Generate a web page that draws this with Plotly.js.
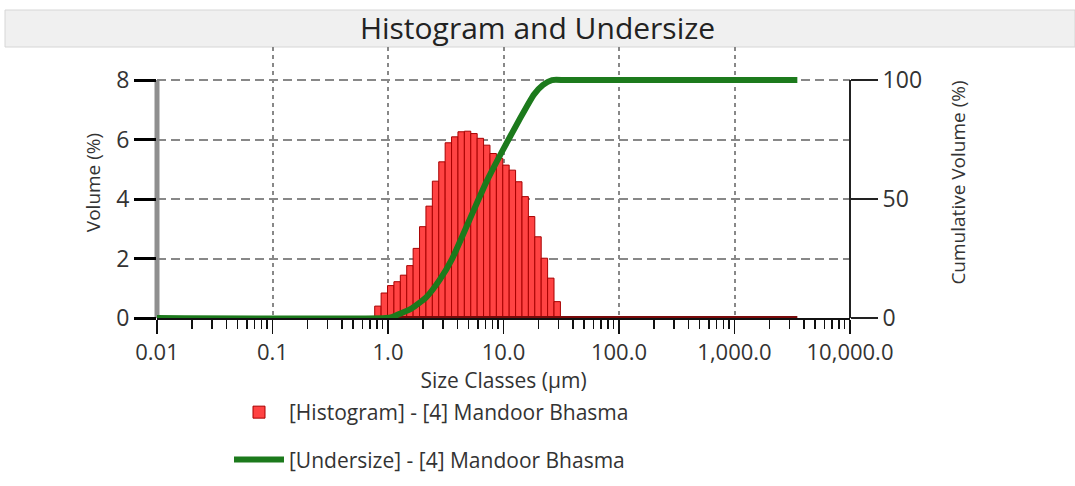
<!DOCTYPE html>
<html>
<head>
<meta charset="utf-8">
<script src="https://cdn.plot.ly/plotly-3.0.1.min.js"></script>
<style>html,body{margin:0;padding:0;background:#fff;}#chart{width:1075px;height:486px;}</style>
</head>
<body>
<div id="chart"></div>
<script>
// Size-class bin edges of the instrument's log-spaced classes (µm)
const binEdges = [0.7673, 0.8718, 0.9905, 1.1253, 1.2786, 1.4527, 1.6505, 1.8752, 2.1306, 2.4207,
  2.7503, 3.1248, 3.5503, 4.0337, 4.5830, 5.2070, 5.9156, 6.7215, 7.6366, 8.6765,
  9.857, 11.199, 12.724, 14.457, 16.425, 18.662, 21.203, 24.090, 27.370, 31.097];
// Histogram volume (%) per class (one value per bin)
const volumePct = [0.40, 0.84, 1.09, 1.22, 1.44, 1.76, 2.34, 3.07, 3.76, 4.60,
  5.25, 5.89, 6.09, 6.26, 6.28, 6.20, 6.04, 5.81, 5.53, 5.37,
  5.14, 4.97, 4.58, 4.08, 3.41, 2.73, 2.01, 1.34, 0.55];
// Undersize (cumulative volume %) curve
const undersizeSizes = [0.01, 0.95, 1.1, 1.3, 1.6, 2.15, 2.8, 3.6, 5.05, 7.08, 9.73, 13.6,
  18.4, 22, 26.3, 35, 3500];
const undersizePct = [0, 0, 0.5, 2, 4, 8.8, 16, 25, 41, 57, 70, 83,
  94, 98, 100, 100, 100];
// Histogram analysis range (zero baseline)
const histRangeSizes = [0.01, 3500];
const histRangeVals = [0, 0];
// Tick labels
const xTickVals = [0.01, 0.1, 1, 10, 100, 1000, 10000];
const xTickText = ["0.01", "0.1", "1.0", "10.0", "100.0", "1,000.0", "10,000.0"];
const yTickVals = [0, 2, 4, 6, 8];
const y2TickVals = [0, 50, 100];

// bars span each class from its lower to its upper edge
const barX = volumePct.map((v, i) => binEdges[i]);
const barW = volumePct.map((v, i) => binEdges[i + 1] - binEdges[i]);

const traces = [
  {
    type: 'scatter', mode: 'lines', x: histRangeSizes, y: histRangeVals,
    line: {color: '#7a0a0a', width: 4}, showlegend: false, hoverinfo: 'skip', yaxis: 'y'
  },
  {
    type: 'bar', x: barX, y: volumePct, width: barW, offset: 0, yaxis: 'y',
    name: '[Histogram] - [4] Mandoor Bhasma', legendgroup: 'h',
    marker: {color: '#ff4343', line: {color: '#a80000', width: 1}}
  },
  {
    type: 'scatter', mode: 'lines', x: undersizeSizes, y: undersizePct, yaxis: 'y2',
    name: '[Undersize] - [4] Mandoor Bhasma', legendgroup: 'u',
    line: {color: '#1c7a1c', width: 6, shape: 'spline', smoothing: 0.6}
  }
];

const layout = {
  width: 1075, height: 486,
  margin: {l: 157, r: 225, t: 47, b: 168, pad: 0, autoexpand: false},
  paper_bgcolor: '#ffffff', plot_bgcolor: '#ffffff',
  font: {family: 'Open Sans, sans-serif', color: '#333333'},
  bargap: 0,
  title: {
    text: 'Histogram and Undersize', font: {size: 30, color: '#222222'},
    x: 0.5, xref: 'container', xanchor: 'center',
    y: 1 - 28 / 486, yref: 'container', yanchor: 'middle'
  },
  xaxis: {
    type: 'log', range: [-2, 4], tickmode: 'array', tickvals: xTickVals, ticktext: xTickText,
    ticks: 'outside', ticklen: 14, tickwidth: 1.5, tickcolor: '#111111',
    showline: true, linecolor: '#111111', linewidth: 1.5,
    showgrid: true, gridcolor: '#888888', gridwidth: 2, griddash: '4px,4px',
    minor: {ticks: 'outside', ticklen: 9, tickwidth: 1.5, tickcolor: '#111111', dtick: 'D1', showgrid: false},
    zeroline: false, tickfont: {size: 22, color: '#333333'},
    title: {text: 'Size Classes (µm)', font: {size: 21, color: '#333333'}, standoff: 0},
    automargin: false
  },
  yaxis: {
    range: [0, 9.11], tickmode: 'array', tickvals: yTickVals,
    ticks: 'outside', ticklen: 22, tickwidth: 3, tickcolor: '#000000',
    showline: false,
    showgrid: true, gridcolor: '#888888', gridwidth: 2, griddash: '9px,5px',
    zeroline: false, tickfont: {size: 23, color: '#333333'},
    title: {text: 'Volume (%)', font: {size: 19, color: '#333333'}, standoff: 10},
    automargin: false
  },
  yaxis2: {
    overlaying: 'y', side: 'right', range: [0, 113.9], tickmode: 'array', tickvals: y2TickVals,
    ticks: 'outside', ticklen: 27, tickwidth: 1.5, tickcolor: '#222222',
    showline: false,
    showgrid: false, zeroline: false, tickfont: {size: 23, color: '#333333'},
    title: {text: 'Cumulative Volume (%)', font: {size: 19, color: '#333333'}, standoff: 30},
    automargin: false
  },
  legend: {
    x: (229 - 157) / 693, xanchor: 'left', y: (318 - 392) / 271, yanchor: 'top',
    orientation: 'v', traceorder: 'grouped', tracegroupgap: 17, itemwidth: 50,
    font: {size: 21, color: '#333333'}, bgcolor: 'rgba(0,0,0,0)', borderwidth: 0
  },
  shapes: [
    {
      type: 'rect', xref: 'paper', yref: 'paper', layer: 'below',
      x0: (5 - 157) / 693, x1: (1075 - 157) / 693, y0: 1.0, y1: (318 - 10) / 271,
      fillcolor: '#f0f0f0', line: {color: '#d6d6d6', width: 1}
    },
    {
      type: 'line', xref: 'paper', yref: 'y', layer: 'below',
      x0: 0, x1: 0, y0: 0, y1: yTickVals[yTickVals.length - 1],
      line: {color: '#8f8f8f', width: 5}
    },
    {
      type: 'line', xref: 'paper', yref: 'y2', layer: 'above',
      x0: 1, x1: 1, y0: 0, y1: y2TickVals[y2TickVals.length - 1],
      line: {color: '#222222', width: 2}
    }
  ]
};

Plotly.newPlot('chart', traces, layout, {displayModeBar: false, staticPlot: true});
</script>
</body>
</html>
